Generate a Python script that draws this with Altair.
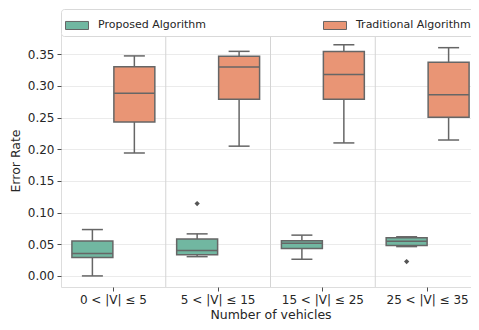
import altair as alt
import pandas as pd

categories = ["0 < |V| ≤ 5", "5 < |V| ≤ 15", "15 < |V| ≤ 25", "25 < |V| ≤ 35"]
algorithms = ["Proposed Algorithm", "Traditional Algorithm"]

proposed_min = [0.0000, 0.0304, 0.0263, 0.0463]
proposed_q1 = [0.0289, 0.0335, 0.0432, 0.0479]
proposed_med = [0.0355, 0.0401, 0.0516, 0.0547]
proposed_q3 = [0.0551, 0.0582, 0.0556, 0.0602]
proposed_max = [0.0732, 0.0664, 0.0644, 0.0618]

traditional_min = [0.1941, 0.2049, 0.2100, 0.2146]
traditional_q1 = [0.2430, 0.2790, 0.2790, 0.2507]
traditional_med = [0.2883, 0.3299, 0.3181, 0.2862]
traditional_q3 = [0.3304, 0.3469, 0.3542, 0.3372]
traditional_max = [0.3474, 0.3546, 0.3650, 0.3604]

outlier_cat = ["5 < |V| ≤ 15", "25 < |V| ≤ 35"]
outlier_alg = ["Proposed Algorithm", "Proposed Algorithm"]
outlier_val = [0.1143, 0.0227]

separator_pos = [1, 2, 3]
y_ticks = [0.0, 0.05, 0.10, 0.15, 0.20, 0.25, 0.30, 0.35]
colors = ["#71b7a1", "#e99575"]

rows = []
for i, c in enumerate(categories):
    rows.append(dict(cat=c, alg=algorithms[0], lo=proposed_min[i], q1=proposed_q1[i],
                     med=proposed_med[i], q3=proposed_q3[i], hi=proposed_max[i]))
    rows.append(dict(cat=c, alg=algorithms[1], lo=traditional_min[i], q1=traditional_q1[i],
                     med=traditional_med[i], q3=traditional_q3[i], hi=traditional_max[i]))
df = pd.DataFrame(rows)
out_df = pd.DataFrame(dict(cat=outlier_cat, alg=outlier_alg, v=outlier_val))
sep_df = pd.DataFrame(dict(pos=separator_pos))

W, H = 419, 253
LINE = "#666666"
TXT = "#262626"
FONT = "DejaVu Sans"

x_axis = alt.Axis(title="Number of vehicles", labelAngle=0, grid=False, domain=False,
                  tickSize=4, tickColor="#4d4d4d", labelPadding=3, titlePadding=3,
                  labelFontSize=12, titleFontSize=12.5, labelColor=TXT, titleColor=TXT,
                  labelFont=FONT, titleFont=FONT, titleFontWeight="normal")
x_scale = alt.Scale(domain=categories, paddingInner=0, paddingOuter=0)
x_enc = alt.X("cat:N", sort=categories, scale=x_scale, axis=x_axis)
xo_enc = alt.XOffset("alg:N", scale=alt.Scale(domain=algorithms, paddingInner=0.024, paddingOuter=0.26))
y_scale = alt.Scale(domain=[-0.0175, 0.382], nice=False, zero=False)
y_axis = alt.Axis(title="Error Rate", values=y_ticks, format=".2f", grid=True, gridColor="#ebebeb",
                  gridWidth=1, domain=False, tickSize=4, tickColor="#4d4d4d", labelPadding=3,
                  titlePadding=5, labelFontSize=12, titleFontSize=12.5, labelColor=TXT,
                  titleColor=TXT, labelFont=FONT, titleFont=FONT, titleFontWeight="normal",
                  labelOverlap=False)


def Y(field):
    return alt.Y(field, scale=y_scale, axis=y_axis)


base = alt.Chart(df)

whisk_lo = base.mark_rule(color=LINE, strokeWidth=1.5).encode(
    x=x_enc, xOffset=xo_enc, y=Y("lo:Q"), y2="q1:Q")
whisk_hi = base.mark_rule(color=LINE, strokeWidth=1.5).encode(
    x=x_enc, xOffset=xo_enc, y=Y("q3:Q"), y2="hi:Q")
cap_lo = base.mark_tick(color=LINE, size=21, thickness=1.5, opacity=1).encode(
    x=x_enc, xOffset=xo_enc, y=Y("lo:Q"))
cap_hi = base.mark_tick(color=LINE, size=21, thickness=1.5, opacity=1).encode(
    x=x_enc, xOffset=xo_enc, y=Y("hi:Q"))
boxes = base.mark_bar(stroke=LINE, strokeWidth=1.5, opacity=1).encode(
    x=x_enc, xOffset=xo_enc, y=Y("q1:Q"), y2="q3:Q",
    color=alt.Color("alg:N", scale=alt.Scale(domain=algorithms, range=colors),
                    legend=alt.Legend(title=None, orient="none", legendX=0, legendY=-25,
                                      direction="horizontal", columns=2, columnPadding=114,
                                      symbolType="M-1,-0.35L1,-0.35L1,0.35L-1,0.35Z",
                                      symbolSize=529, symbolStrokeColor=LINE,
                                      symbolStrokeWidth=1, symbolOpacity=1, labelOffset=9,
                                      labelFontSize=11, labelFont=FONT, labelColor=TXT,
                                      padding=4, strokeColor="#d9d9d9", fillColor="white",
                                      cornerRadius=3, labelLimit=300)))
medians = base.mark_tick(color=LINE, size=41, thickness=1.5, opacity=1).encode(
    x=x_enc, xOffset=xo_enc, y=Y("med:Q"))
outs = alt.Chart(out_df).mark_point(shape="diamond", filled=True, color="#555555",
                                    size=28, opacity=1).encode(
    x=x_enc, xOffset=xo_enc, y=Y("v:Q"))

boxplot = alt.layer(whisk_lo, whisk_hi, cap_lo, cap_hi, boxes, medians, outs)

seps = alt.Chart(sep_df).mark_rule(color="#d4d4d4", strokeWidth=1).encode(
    x=alt.X("pos:Q", scale=alt.Scale(domain=[0, 4], nice=False, zero=False), axis=None),
    y=alt.value(0), y2=alt.value(H))

chart = alt.layer(seps, boxplot).resolve_scale(x="independent").properties(
    width=W, height=H,
    autosize=alt.AutoSizeParams(type="none"),
    padding={"left": 53, "top": 26, "right": -9, "bottom": 35},
).configure_view(stroke="#4d4d4d", strokeWidth=1.2).configure(background="white")

chart.save("out.html", embed_options={"renderer": "svg", "actions": False})
